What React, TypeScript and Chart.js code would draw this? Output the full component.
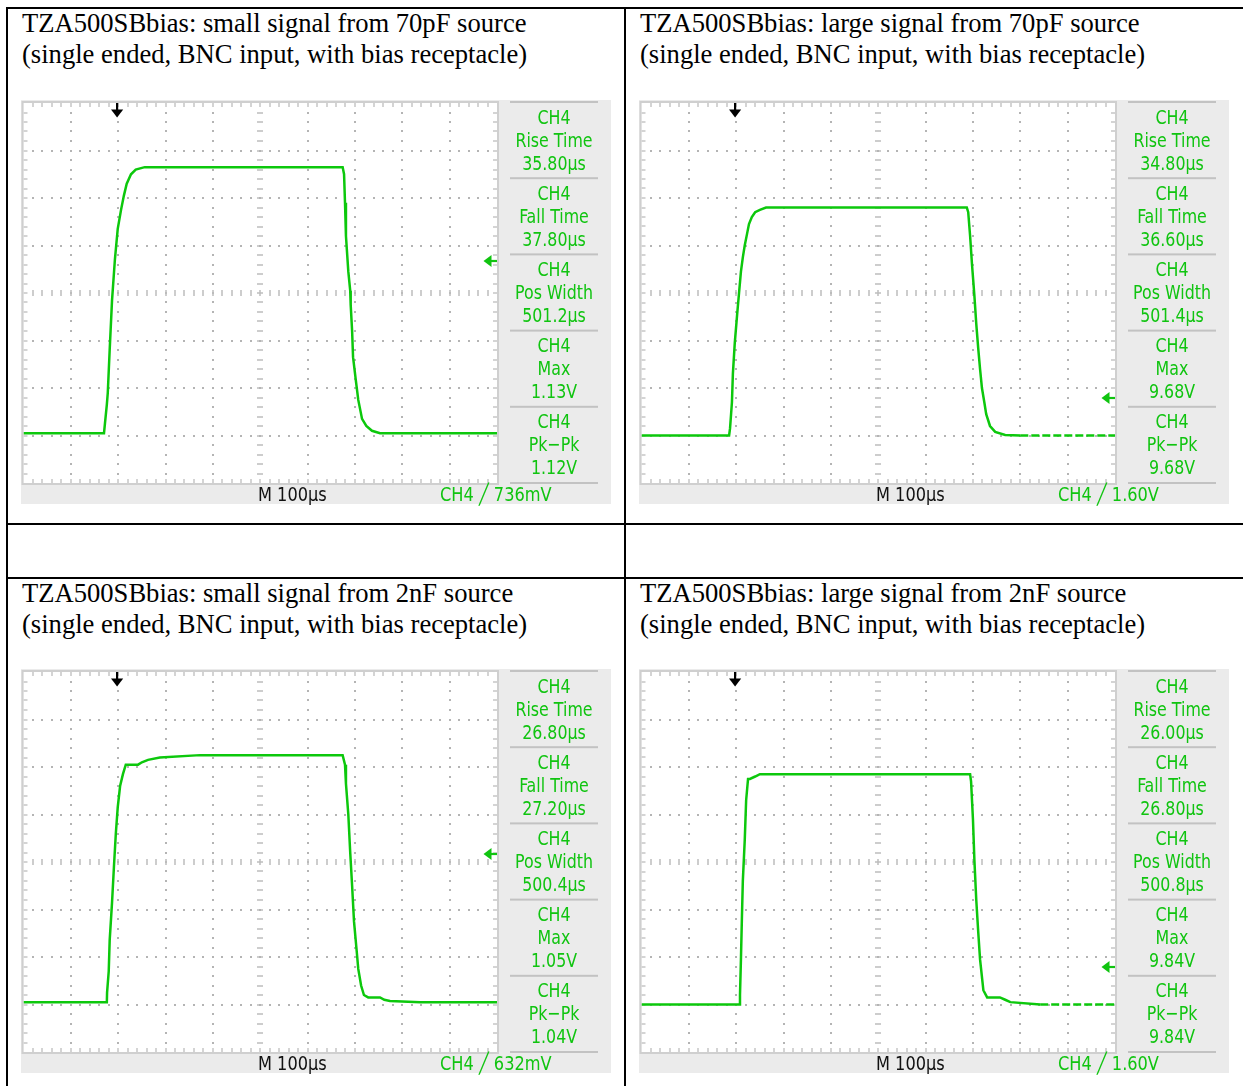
import React, { useEffect, useRef } from "react";
import { Chart, registerables } from "chart.js";

Chart.register(...registerables);

// ---------------- data ----------------
const titleLines = [
  "TZA500SBbias: small signal from 70pF source",
  "TZA500SBbias: large signal from 70pF source",
  "TZA500SBbias: small signal from 2nF source",
  "TZA500SBbias: large signal from 2nF source",
];
const subTitle = "(single ended, BNC input, with bias receptacle)";

const measureLabels = ["Rise Time", "Fall Time", "Pos Width", "Max", "Pk\u2212Pk"];
const channelName = "CH4";
const timebaseLabel = "M 100\u00b5s";

// small signal, 70pF source (µs, V)
const timeS70 = [0, 170, 172, 176, 178, 182, 187, 193, 199, 206, 212, 218, 227, 237, 256, 674, 677, 679, 681, 686, 690, 691, 694, 696, 702, 707, 715, 724, 736, 753, 1000];
const voltS70 = [0.01, 0.01, 0.05, 0.13, 0.18, 0.36, 0.57, 0.74, 0.87, 0.95, 1.01, 1.06, 1.10, 1.12, 1.13, 1.13, 1.10, 0.98, 0.84, 0.69, 0.61, 0.55, 0.44, 0.33, 0.23, 0.15, 0.07, 0.04, 0.02, 0.01, 0.01];
const readS70 = ["35.80\u00b5s", "37.80\u00b5s", "501.2\u00b5s", "1.13V", "1.12V"];
const trigS70 = 0.736;
const trigTextS70 = "736mV";

// large signal, 70pF source
const timeL70 = [0, 185, 187, 191, 193, 197, 202, 206, 210, 214, 218, 223, 227, 233, 240, 250, 263, 687, 690, 694, 698, 703, 707, 711, 715, 719, 724, 728, 736, 747, 768, 800, 1000];
const voltL70 = [0, 0, 0.3, 1.4, 2.6, 3.9, 5.1, 6.0, 6.9, 7.5, 8.0, 8.5, 8.9, 9.2, 9.4, 9.5, 9.6, 9.6, 9.4, 8.4, 7.2, 5.9, 4.7, 3.7, 2.8, 2.0, 1.4, 0.9, 0.4, 0.15, 0.02, 0, 0];
const readL70 = ["34.80\u00b5s", "36.60\u00b5s", "501.4\u00b5s", "9.68V", "9.68V"];
const trigL70 = 1.6;
const trigTextL70 = "1.60V";

// small signal, 2nF source
const timeS2n = [0, 176, 176.5, 180, 182, 187, 191, 195, 199, 204, 210, 216, 242, 250, 263, 288, 373, 674, 679, 681, 686, 690, 694, 698, 703, 707, 713, 719, 728, 753, 762, 774, 838, 1000];
const voltS2n = [0.01, 0.01, 0.05, 0.14, 0.27, 0.43, 0.58, 0.72, 0.83, 0.92, 0.97, 1.01, 1.01, 1.02, 1.03, 1.04, 1.05, 1.05, 1.01, 0.93, 0.80, 0.64, 0.50, 0.35, 0.24, 0.15, 0.08, 0.04, 0.03, 0.03, 0.02, 0.015, 0.01, 0.01];
const readS2n = ["26.80\u00b5s", "27.20\u00b5s", "500.4\u00b5s", "1.05V", "1.04V"];
const trigS2n = 0.632;
const trigTextS2n = "632mV";

// large signal, 2nF source
const timeL2n = [0, 206, 208, 210, 212, 214, 218, 221, 225, 229, 240, 250, 694, 696, 700, 703, 707, 711, 715, 722, 730, 757, 768, 779, 842, 1000];
const voltL2n = [0, 0, 0.4, 1.9, 3.6, 5.2, 6.9, 8.6, 9.5, 9.5, 9.6, 9.7, 9.7, 9.4, 7.8, 6.1, 4.4, 3.1, 1.9, 0.6, 0.3, 0.3, 0.2, 0.1, 0, 0];
const readL2n = ["26.00\u00b5s", "26.80\u00b5s", "500.8\u00b5s", "9.84V", "9.84V"];
const trigL2n = 1.6;
const trigTextL2n = "1.60V";

const smallRange = [-0.2, 1.4]; // 200 mV/div
const largeRange = [-2, 14]; // 2 V/div
const timeRange = [0, 1000]; // 100 µs/div
const triggerTime = 197;

// ---------------- styles ----------------
const GREEN = "#10c410";
const TRACE = "#0cc80c";
const SCOPE_FONT = '"Liberation Sans Narrow", "DejaVu Sans Condensed", "Arial Narrow", sans-serif';
const SERIF = '"Liberation Serif", "Times New Roman", serif';

const scopePlugin = {
  id: "scope",
  beforeDatasetsDraw(chart: any) {
    const { ctx, chartArea: a } = chart;
    const xs = chart.scales.x;
    const ys = chart.scales.y;
    ctx.save();
    ctx.fillStyle = "#ebebeb";
    ctx.fillRect(0, 0, chart.width, chart.height);
    ctx.fillStyle = "#ffffff";
    ctx.fillRect(a.left, a.top, a.right - a.left, a.bottom - a.top);
    const xDiv = (xs.max - xs.min) / 10;
    const yDiv = (ys.max - ys.min) / 8;
    const px = (v: number) => Math.round(xs.getPixelForValue(v));
    const py = (v: number) => Math.round(ys.getPixelForValue(v));
    for (let i = 1; i <= 9; i++) {
      const X = px(xs.min + i * xDiv);
      for (let j = 1; j <= 39; j++) {
        const Y = py(ys.min + (j * yDiv) / 5);
        if (i === 5) {
          ctx.fillStyle = "#bdbdbd";
          ctx.fillRect(X - 3, Y - 0.75, 6, 1.5);
        } else {
          ctx.fillStyle = "#b4b4b4";
          ctx.fillRect(X - 1, Y - 1, 2, 2);
        }
      }
    }
    for (let j = 1; j <= 7; j++) {
      const Y = py(ys.min + j * yDiv);
      for (let i = 1; i <= 49; i++) {
        const X = px(xs.min + (i * xDiv) / 5);
        if (j === 4) {
          ctx.fillStyle = "#bdbdbd";
          ctx.fillRect(X - 0.75, Y - 3, 1.5, 6);
        } else {
          ctx.fillStyle = "#b4b4b4";
          ctx.fillRect(X - 1, Y - 1, 2, 2);
        }
      }
    }
    ctx.fillStyle = "#c6c6c6";
    for (let i = 1; i <= 49; i++) {
      const X = px(xs.min + (i * xDiv) / 5);
      ctx.fillRect(X - 0.75, a.top, 1.5, 4);
      ctx.fillRect(X - 0.75, a.bottom - 4, 1.5, 4);
    }
    for (let j = 1; j <= 39; j++) {
      const Y = py(ys.min + (j * yDiv) / 5);
      ctx.fillRect(a.left, Y - 0.75, 4, 1.5);
      ctx.fillRect(a.right - 4, Y - 0.75, 4, 1.5);
    }
    ctx.strokeStyle = "#cfcfcf";
    ctx.lineWidth = 2;
    ctx.strokeRect(a.left - 1, a.top - 1, a.right - a.left + 2, a.bottom - a.top + 2);
    ctx.fillStyle = "#c2c2c2";
    const h = a.bottom - a.top + 1;
    for (let k = 0; k <= 5; k++) {
      const Y = a.top - 1 + (k * h) / 5;
      ctx.fillRect(a.right + 13, Y - 1, 88, 2);
    }
    ctx.restore();
  },
  afterDatasetsDraw(chart: any, _args: any, opts: any) {
    const { ctx, chartArea: a } = chart;
    const xs = chart.scales.x;
    const ys = chart.scales.y;
    ctx.save();
    const tx = Math.round(xs.getPixelForValue(opts.trigTime));
    ctx.fillStyle = "#000";
    ctx.fillRect(tx - 1, a.top, 2.2, 8);
    ctx.beginPath();
    ctx.moveTo(tx - 6, a.top + 6.5);
    ctx.lineTo(tx + 6.2, a.top + 6.5);
    ctx.lineTo(tx + 0.1, a.top + 14.5);
    ctx.closePath();
    ctx.fill();
    const ty = Math.round(ys.getPixelForValue(opts.trigLevel));
    ctx.fillStyle = GREEN;
    ctx.fillRect(a.right - 8, ty - 1.1, 8, 2.2);
    ctx.beginPath();
    ctx.moveTo(a.right - 13.5, ty);
    ctx.lineTo(a.right - 5.5, ty - 6);
    ctx.lineTo(a.right - 5.5, ty + 6);
    ctx.closePath();
    ctx.fill();
    ctx.restore();
  },
};

type ScopeProps = {
  left: number;
  top: number;
  times: number[];
  volts: number[];
  yRange: number[];
  trigLevel: number;
  trigText: string;
  readings: string[];
  dashFrom: number | null;
};

const W = 590;
const H = 404;
const PAD = { left: 2.5, top: 3, right: 114, bottom: 21 };

function Scope(p: ScopeProps) {
  const ref = useRef<HTMLCanvasElement | null>(null);
  useEffect(() => {
    if (!ref.current) return;
    const pts = p.times.map((t, i) => ({ x: t, y: p.volts[i] }));
    const chart = new Chart(ref.current, {
      type: "line",
      data: {
        datasets: [
          {
            data: pts,
            borderColor: TRACE,
            borderWidth: 2.5,
            pointRadius: 0,
            tension: 0,
            fill: false,
            segment: {
              borderDash: (c: any) =>
                p.dashFrom !== null && c.p0.parsed.x >= p.dashFrom ? [8, 3] : undefined,
            },
          } as any,
        ],
      },
      options: {
        responsive: false,
        animation: false,
        events: [],
        layout: { padding: PAD },
        scales: {
          x: { type: "linear", min: timeRange[0], max: timeRange[1], display: false },
          y: { type: "linear", min: p.yRange[0], max: p.yRange[1], display: false },
        },
        plugins: {
          legend: { display: false },
          tooltip: { enabled: false },
          scope: { trigTime: triggerTime, trigLevel: p.trigLevel },
        } as any,
      },
      plugins: [scopePlugin],
    });
    return () => chart.destroy();
  }, []);

  const gridRight = W - PAD.right;
  const gridBottom = H - PAD.bottom;
  const boxH = (gridBottom - PAD.top + 1) / 5;
  const txt = {
    font: `20px ${SCOPE_FONT}`,
    whiteSpace: "pre" as const,
  };

  return (
    <div style={{ position: "absolute", left: p.left, top: p.top, width: W, height: H }}>
      <canvas ref={ref} width={W} height={H} style={{ display: "block", width: W, height: H }} />
      {measureLabels.map((lab, k) => (
        <div
          key={lab}
          style={{
            ...txt,
            position: "absolute",
            left: gridRight,
            top: PAD.top - 1 + k * boxH + 3.5,
            width: W - gridRight,
            textAlign: "center",
            lineHeight: "23px",
            color: GREEN,
            transform: "scaleX(0.88)",
            transformOrigin: "50% 50%",
          }}
        >
          <div>{channelName}</div>
          <div>{lab}</div>
          <div>{p.readings[k]}</div>
        </div>
      ))}
      <div
        style={{
          ...txt,
          position: "absolute",
          left: 237,
          top: gridBottom + 1,
          height: 21,
          lineHeight: "21px",
          color: "#111",
          transform: "scaleX(0.9)",
          transformOrigin: "0 50%",
        }}
      >
        {timebaseLabel}
      </div>
      <div
        style={{
          ...txt,
          position: "absolute",
          left: 419,
          top: gridBottom + 1,
          height: 21,
          lineHeight: "21px",
          color: GREEN,
          transform: "scaleX(0.9)",
          transformOrigin: "0 50%",
        }}
      >
        {`${channelName} \u2571 ${p.trigText}`}
      </div>
    </div>
  );
}

function Title({ left, top, text }: { left: number; top: number; text: string }) {
  return (
    <div
      style={{
        position: "absolute",
        left,
        top,
        font: `26.6px ${SERIF}`,
        lineHeight: "31px",
        color: "#000",
        whiteSpace: "pre",
      }}
    >
      <div>{text}</div>
      <div>{subTitle}</div>
    </div>
  );
}

export default function App() {
  const line = (l: number, t: number, w: number, h: number) => (
    <div style={{ position: "absolute", left: l, top: t, width: w, height: h, background: "#000" }} />
  );
  return (
    <div
      style={{
        position: "absolute",
        left: 0,
        top: 0,
        width: 1243,
        height: 1086,
        background: "#fff",
        overflow: "hidden",
      }}
    >
      {line(6, 7, 1237, 2)}
      {line(6, 7, 2, 1079)}
      {line(624, 7, 2, 1079)}
      {line(6, 523, 1237, 2)}
      {line(6, 577, 1237, 2)}

      <Title left={22} top={8} text={titleLines[0]} />
      <Title left={640} top={8} text={titleLines[1]} />
      <Title left={22} top={578} text={titleLines[2]} />
      <Title left={640} top={578} text={titleLines[3]} />

      <Scope left={21} top={100} times={timeS70} volts={voltS70} yRange={smallRange} trigLevel={trigS70} trigText={trigTextS70} readings={readS70} dashFrom={null} />
      <Scope left={639} top={100} times={timeL70} volts={voltL70} yRange={largeRange} trigLevel={trigL70} trigText={trigTextL70} readings={readL70} dashFrom={800} />
      <Scope left={21} top={669} times={timeS2n} volts={voltS2n} yRange={smallRange} trigLevel={trigS2n} trigText={trigTextS2n} readings={readS2n} dashFrom={null} />
      <Scope left={639} top={669} times={timeL2n} volts={voltL2n} yRange={largeRange} trigLevel={trigL2n} trigText={trigTextL2n} readings={readL2n} dashFrom={842} />
    </div>
  );
}
